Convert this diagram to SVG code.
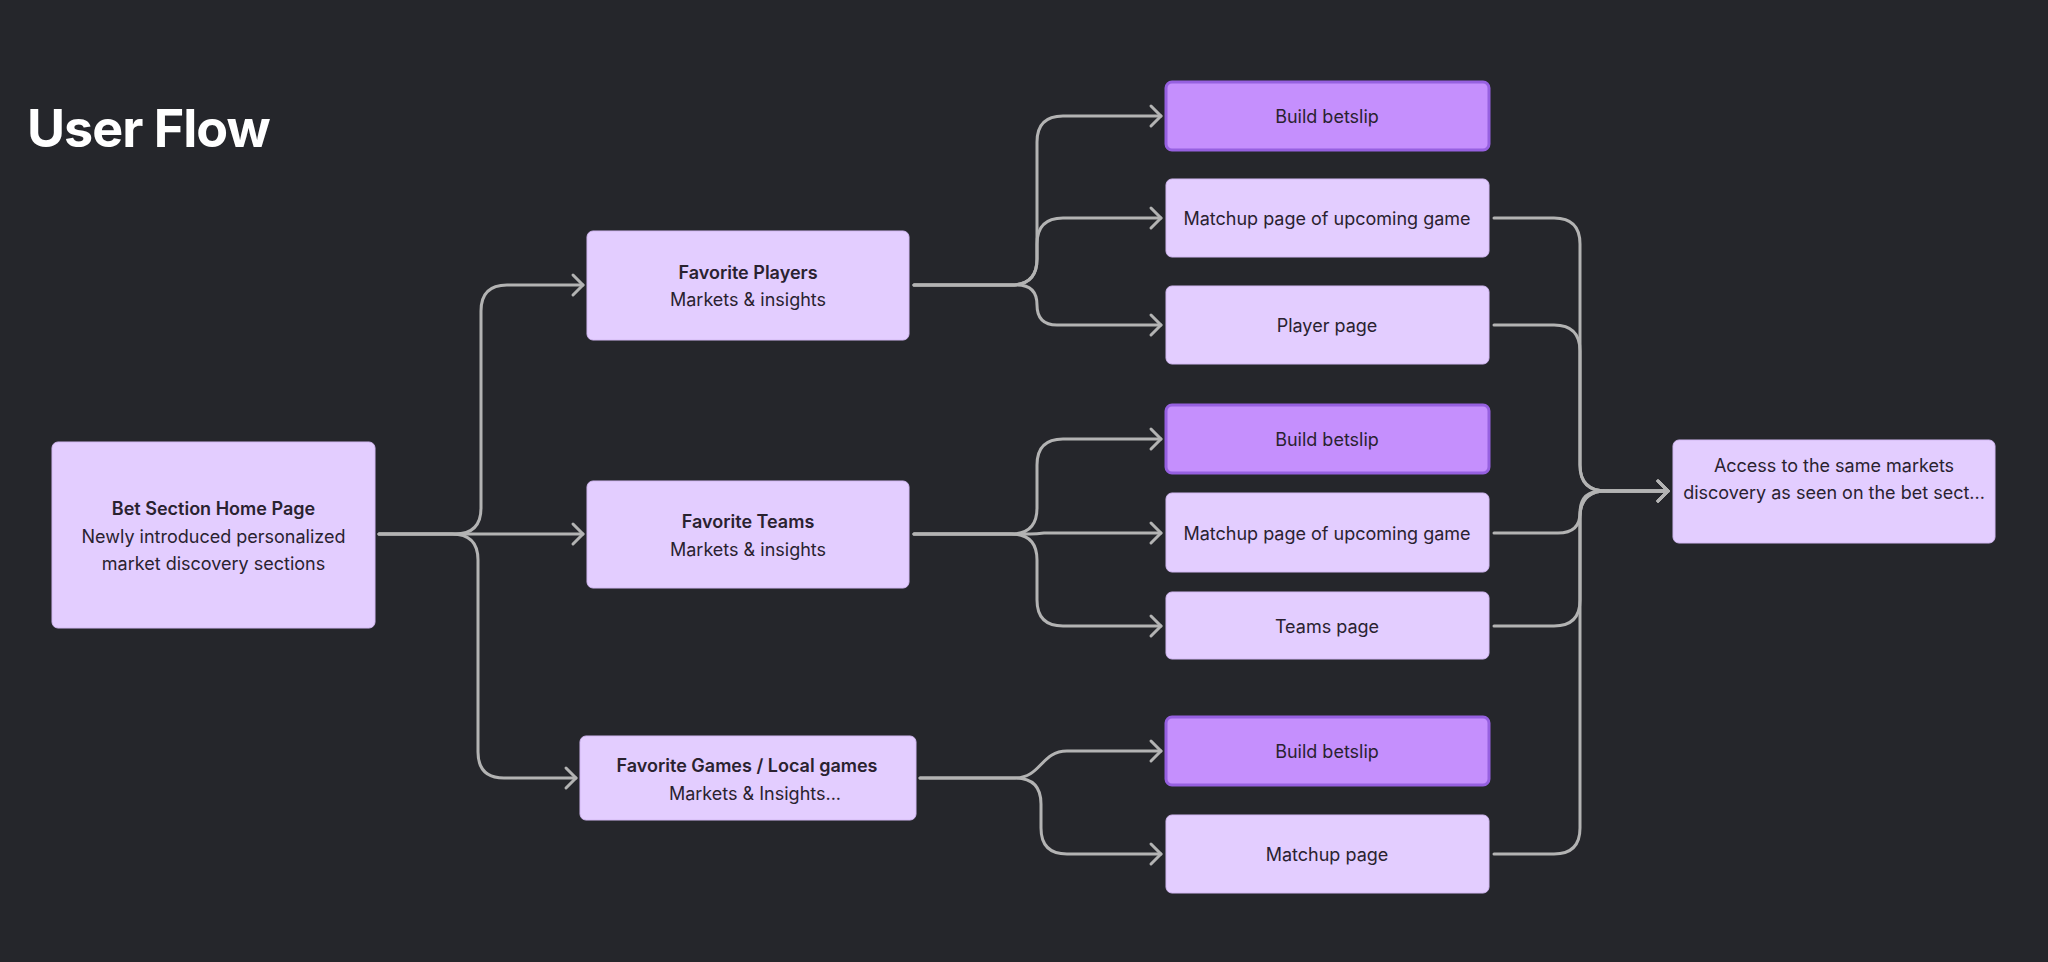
<svg xmlns="http://www.w3.org/2000/svg" width="2048" height="962" viewBox="0 0 2048 962">
<defs>
<style>
.bg{fill:#25262b}
.n{fill:#e3cdff;stroke:#d2b8f2;stroke-width:1}
.b{fill:#c58ffd;stroke:#9660e0;stroke-width:3}
.t{font-family:Inter,"Liberation Sans",sans-serif;font-size:18px;fill:#2a2230;text-anchor:middle}
.tb{font-weight:600}
.c{fill:none;stroke:#b3b3b3;stroke-width:3;stroke-linecap:round;stroke-linejoin:round}
.title{font-family:Inter,"Liberation Sans",sans-serif;font-size:52px;font-weight:700;fill:#ffffff;letter-spacing:-1px}
</style>
<marker id="ar" markerUnits="userSpaceOnUse" markerWidth="30" markerHeight="30" refX="0" refY="0" viewBox="-15 -15 30 30" orient="auto" overflow="visible">
<path d="M-10,-10 L0,0 L-10,10" fill="none" stroke="#b3b3b3" stroke-width="3" stroke-linecap="round" stroke-linejoin="round"/>
</marker>
</defs>
<rect class="bg" x="0" y="0" width="2048" height="962"/>
<text class="title" x="27" y="147">User Flow</text>

<g id="connectors" class="c" marker-end="url(#ar)">
<path d="M379,534 H583"/>
<path d="M379,534 H455 Q481,534 481,508 V311 Q481,285 507,285 H583"/>
<path d="M379,534 H452 Q478,534 478,560 V752 Q478,778 504,778 H576"/>

<path d="M914,285 H1011 Q1037,285 1037,259 V142 Q1037,116 1063,116 H1161"/>
<path d="M914,285 H1011 Q1037,285 1037,259 V244 Q1037,218 1063,218 H1161"/>
<path d="M914,285 H1017 Q1037,285 1037,305 Q1037,325 1057,325 H1161"/>

<path d="M914,534 H1011 Q1037,534 1037,508 V465 Q1037,439 1063,439 H1161"/>
<path d="M914,534 H1030 Q1037,534 1044,533 H1161"/>
<path d="M914,534 H1011 Q1037,534 1037,560 V600 Q1037,626 1063,626 H1161"/>

<path d="M920,778 H1015 C1041,778 1041,751 1067,751 H1161"/>
<path d="M920,778 H1015 Q1041,778 1041,804 V828 Q1041,854 1067,854 H1161"/>

<path d="M1494,218 H1554 Q1580,218 1580,244 V465 Q1580,491 1606,491 H1668"/>
<path d="M1494,325 H1554 Q1580,325 1580,351 V465 Q1580,491 1606,491 H1668"/>
<path d="M1494,533 H1558 Q1580,533 1580,513 Q1580,491 1602,491 H1668"/>
<path d="M1494,626 H1554 Q1580,626 1580,600 V517 Q1580,491 1606,491 H1668"/>
<path d="M1494,854 H1554 Q1580,854 1580,828 V517 Q1580,491 1606,491 H1668"/>
</g>

<g id="bet-section">
<rect class="n" x="52" y="442" width="323" height="186" rx="6"/>
<text class="t tb" x="213.5" y="515">Bet Section Home Page</text>
<text class="t" x="213.5" y="543">Newly introduced personalized</text>
<text class="t" x="213.5" y="570">market discovery sections</text>
</g>

<g id="fav-players">
<rect class="n" x="587" y="231" width="322" height="109" rx="6"/>
<text class="t tb" x="748" y="279">Favorite Players</text>
<text class="t" x="748" y="306">Markets &amp; insights</text>
</g>

<g id="fav-teams">
<rect class="n" x="587" y="481" width="322" height="107" rx="6"/>
<text class="t tb" x="748" y="528">Favorite Teams</text>
<text class="t" x="748" y="556">Markets &amp; insights</text>
</g>

<g id="fav-games">
<rect class="n" x="580" y="736" width="336" height="84" rx="6"/>
<text class="t tb" x="747" y="772">Favorite Games / Local games</text>
<text class="t" x="755" y="800">Markets &amp; Insights...</text>
</g>

<g id="betslip-1">
<rect class="b" x="1166" y="82" width="323" height="68" rx="6"/>
<text class="t" x="1327" y="123">Build betslip</text>
</g>
<g id="matchup-1">
<rect class="n" x="1166" y="179" width="323" height="78" rx="6"/>
<text class="t" x="1327" y="225">Matchup page of upcoming game</text>
</g>
<g id="player-page">
<rect class="n" x="1166" y="286" width="323" height="78" rx="6"/>
<text class="t" x="1327" y="332">Player page</text>
</g>

<g id="betslip-2">
<rect class="b" x="1166" y="405" width="323" height="68" rx="6"/>
<text class="t" x="1327" y="446">Build betslip</text>
</g>
<g id="matchup-2">
<rect class="n" x="1166" y="493" width="323" height="79" rx="6"/>
<text class="t" x="1327" y="540">Matchup page of upcoming game</text>
</g>
<g id="teams-page">
<rect class="n" x="1166" y="592" width="323" height="67" rx="6"/>
<text class="t" x="1327" y="633">Teams page</text>
</g>

<g id="betslip-3">
<rect class="b" x="1166" y="717" width="323" height="68" rx="6"/>
<text class="t" x="1327" y="758">Build betslip</text>
</g>
<g id="matchup-page">
<rect class="n" x="1166" y="815" width="323" height="78" rx="6"/>
<text class="t" x="1327" y="861">Matchup page</text>
</g>

<g id="access">
<rect class="n" x="1673" y="440" width="322" height="103" rx="6"/>
<text class="t" x="1834" y="472">Access to the same markets</text>
<text class="t" x="1834" y="499">discovery as seen on the bet sect...</text>
</g>
</svg>
